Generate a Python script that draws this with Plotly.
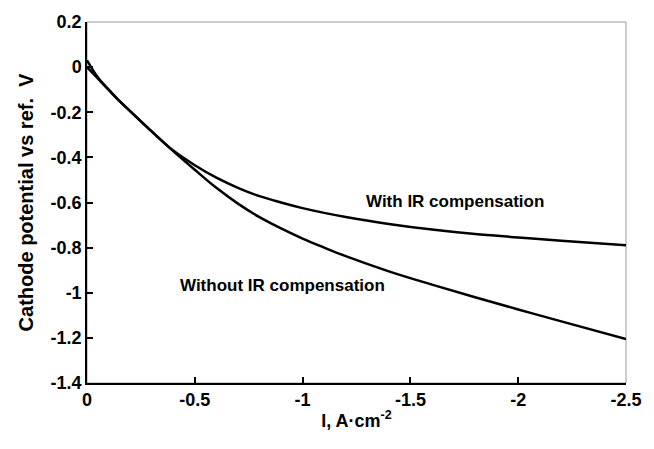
import plotly.graph_objects as go

# Current density (A/cm2)
current = [0, -0.05, -0.1, -0.15, -0.2, -0.3, -0.4, -0.5, -0.6, -0.7, -0.8, -0.9, -1.0,
           -1.1, -1.2, -1.4, -1.6, -1.8, -2.0, -2.2, -2.5]
# Cathode potential with IR compensation (V)
with_ir = [0.03, -0.045, -0.10, -0.15, -0.195, -0.285, -0.37, -0.435, -0.49, -0.535, -0.572, -0.60, -0.625,
           -0.646, -0.664, -0.695, -0.72, -0.74, -0.755, -0.77, -0.79]
# Cathode potential without IR compensation (V)
without_ir = [0.0, -0.05, -0.10, -0.15, -0.195, -0.285, -0.372, -0.455, -0.535, -0.605, -0.665, -0.715, -0.76,
              -0.80, -0.838, -0.905, -0.964, -1.02, -1.074, -1.127, -1.205]

x_ticks = [0, -0.5, -1, -1.5, -2, -2.5]
x_tick_labels = ["0", "-0.5", "-1", "-1.5", "-2", "-2.5"]
y_ticks = [0.2, 0, -0.2, -0.4, -0.6, -0.8, -1.0, -1.2, -1.4]
y_tick_labels = ["0.2", "0", "-0.2", "-0.4", "-0.6", "-0.8", "-1", "-1.2", "-1.4"]

labels = ["With IR compensation", "Without IR compensation"]
label_x = [-1.708, -0.907]
label_y = [-0.597, -0.968]

FONT = "Liberation Sans, Arial, sans-serif"

fig = go.Figure()
fig.add_trace(go.Scatter(x=current, y=with_ir, mode="lines",
                         line=dict(color="black", width=2.5, shape="spline", smoothing=1.0),
                         showlegend=False))
fig.add_trace(go.Scatter(x=current, y=without_ir, mode="lines",
                         line=dict(color="black", width=2.5, shape="spline", smoothing=1.0),
                         showlegend=False))

for t, ax_, ay_ in zip(labels, label_x, label_y):
    fig.add_annotation(x=ax_, y=ay_, text=t, showarrow=False,
                       font=dict(family=FONT, size=17, color="black", weight="bold"))

# gray frame (top/right border)
fig.add_shape(type="rect", xref="x domain", yref="y domain", x0=0, x1=1, y0=0, y1=1,
              line=dict(color="#999999", width=1), layer="below")

fig.update_layout(
    width=654, height=449,
    margin=dict(l=87, r=24, t=16, b=66),
    paper_bgcolor="white", plot_bgcolor="white",
    font=dict(family=FONT, color="black"),
    xaxis=dict(range=[0, -2.5], tickvals=x_ticks, ticktext=x_tick_labels,
               showgrid=False, zeroline=False, showline=True, linecolor="black", linewidth=1.5,
               ticks="inside", ticklen=6, tickcolor="black", tickwidth=1.5,
               tickfont=dict(family=FONT, size=18, color="black", weight="bold"),
               title=dict(text="I, A·cm<sup>-2</sup>", standoff=5,
                          font=dict(family=FONT, size=18, color="black", weight="bold"))),
    yaxis=dict(range=[-1.4, 0.2], tickvals=y_ticks, ticktext=y_tick_labels,
               showgrid=False, zeroline=False, showline=True, linecolor="black", linewidth=1.5,
               ticks="inside", ticklen=6, tickcolor="black", tickwidth=1.5,
               tickfont=dict(family=FONT, size=18, color="black", weight="bold"),
               title=dict(text="Cathode potential vs ref.  V", standoff=12,
                          font=dict(family=FONT, size=20, color="black", weight="bold"))),
)

fig.write_html("out.html")
